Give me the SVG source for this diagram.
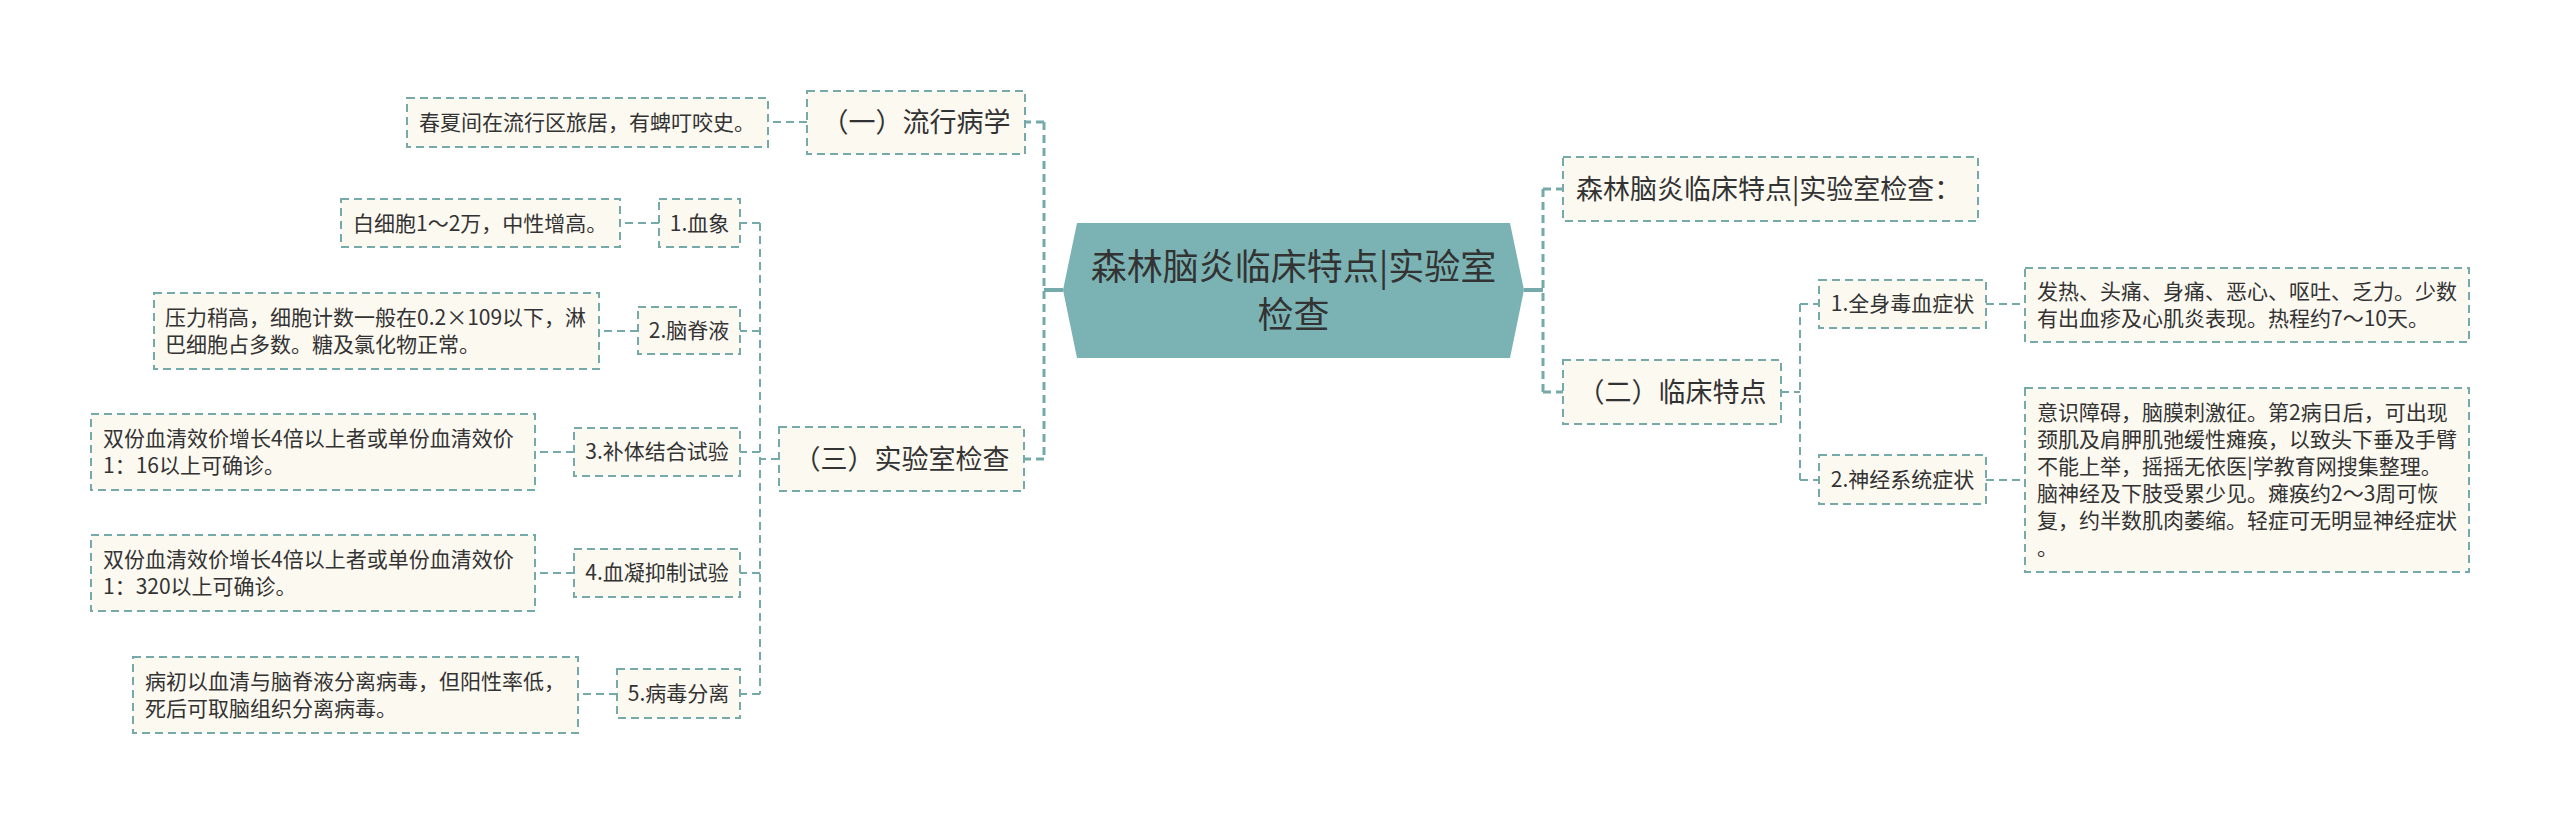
<svg xmlns="http://www.w3.org/2000/svg" width="2560" height="823" viewBox="0 0 2560 823">
<style>
  text { font-family: "Noto Sans CJK SC", "Noto Sans", sans-serif; fill: #333333; }
  .box { fill: #fcf9f1; stroke: #76a9a9; stroke-width: 2; stroke-dasharray: 8 5; }
  .t1 { font-size: 27px; }
  .t2 { font-size: 21px; }
  .c { text-anchor: middle; }
  .hex { fill: #7bb3b4; }
  .ct { font-size: 36px; text-anchor: middle; fill: #333333; }
  .lk1 { fill: none; stroke: #76a9a9; stroke-width: 3; stroke-dasharray: 8 5; }
  .lk2 { fill: none; stroke: #76a9a9; stroke-width: 2; stroke-dasharray: 8 5; }
  .solid { fill: none; stroke: #76a9a9; stroke-width: 4; }
</style>
<rect width="2560" height="823" fill="#ffffff"/>

<g id="connectors">
  <!-- center to left -->
  <path class="solid" d="M1063,290 H1044"/>
  <path class="lk1" d="M1044,122 V459"/>
  <path class="lk1" d="M1044,122 H1025"/>
  <path class="lk1" d="M1044,459 H1024"/>
  <!-- (一) to leaf -->
  <path class="lk2" d="M807,122 H768"/>
  <!-- (三) to children -->
  <path class="lk2" d="M779,459 H760"/>
  <path class="lk2" d="M760,223 V694"/>
  <path class="lk2" d="M760,223 H740"/>
  <path class="lk2" d="M760,331 H740"/>
  <path class="lk2" d="M760,452 H740"/>
  <path class="lk2" d="M760,573 H740"/>
  <path class="lk2" d="M760,694 H740"/>
  <!-- children to leaves -->
  <path class="lk2" d="M659,223 H620"/>
  <path class="lk2" d="M638,331 H599"/>
  <path class="lk2" d="M574,452 H535"/>
  <path class="lk2" d="M574,573 H535"/>
  <path class="lk2" d="M617,694 H578"/>
  <!-- center to right -->
  <path class="solid" d="M1524,290 H1543"/>
  <path class="lk1" d="M1543,189 V392"/>
  <path class="lk1" d="M1543,189 H1563"/>
  <path class="lk1" d="M1543,392 H1563"/>
  <!-- (二) to children -->
  <path class="lk2" d="M1781,392 H1800"/>
  <path class="lk2" d="M1800,304 V480"/>
  <path class="lk2" d="M1800,304 H1819"/>
  <path class="lk2" d="M1800,480 H1819"/>
  <!-- children to leaves -->
  <path class="lk2" d="M1986,304 H2025"/>
  <path class="lk2" d="M1986,480 H2025"/>
</g>

<g id="center">
  <polygon class="hex" points="1063,290 1077,223 1510,223 1524,290 1510,358 1077,358"/>
  <text class="ct" x="1293.5" y="280">森林脑炎临床特点|实验室</text>
  <text class="ct" x="1293.5" y="328">检查</text>
</g>

<g id="n-liuxing">
  <rect class="box" x="807" y="91" width="218" height="63"/>
  <text class="t1 c" x="916" y="132">（一）流行病学</text>
</g>
<g id="n-liuxing-leaf">
  <rect class="box" x="407" y="98" width="361" height="49"/>
  <text class="t2" x="419" y="130">春夏间在流行区旅居，有蜱叮咬史。</text>
</g>

<g id="n-shiyan">
  <rect class="box" x="779" y="427" width="245" height="64"/>
  <text class="t1 c" x="901.5" y="468.5">（三）实验室检查</text>
</g>

<g id="n-xuexiang">
  <rect class="box" x="659" y="199" width="81" height="48"/>
  <text class="t2 c" x="699.5" y="230.5">1.血象</text>
</g>
<g id="n-xuexiang-leaf">
  <rect class="box" x="341" y="199" width="279" height="48"/>
  <text class="t2" x="353" y="230.5">白细胞1～2万，中性增高。</text>
</g>

<g id="n-naojiye">
  <rect class="box" x="638" y="307" width="102" height="47"/>
  <text class="t2 c" x="689" y="338">2.脑脊液</text>
</g>
<g id="n-naojiye-leaf">
  <rect class="box" x="154" y="293" width="445" height="76"/>
  <text class="t2" x="165" y="324.8">压力稍高，细胞计数一般在0.2×109以下，淋</text>
  <text class="t2" x="165" y="351.8">巴细胞占多数。糖及氯化物正常。</text>
</g>

<g id="n-buti">
  <rect class="box" x="574" y="428" width="166" height="48"/>
  <text class="t2 c" x="657" y="459.3">3.补体结合试验</text>
</g>
<g id="n-buti-leaf">
  <rect class="box" x="91" y="414" width="444" height="76"/>
  <text class="t2" x="103" y="445.8">双份血清效价增长4倍以上者或单份血清效价</text>
  <text class="t2" x="103" y="472.8">1：16以上可确诊。</text>
</g>

<g id="n-xuening">
  <rect class="box" x="574" y="549" width="166" height="48"/>
  <text class="t2 c" x="657" y="580.3">4.血凝抑制试验</text>
</g>
<g id="n-xuening-leaf">
  <rect class="box" x="91" y="535" width="444" height="76"/>
  <text class="t2" x="103" y="566.8">双份血清效价增长4倍以上者或单份血清效价</text>
  <text class="t2" x="103" y="593.8">1：320以上可确诊。</text>
</g>

<g id="n-bingdu">
  <rect class="box" x="617" y="669" width="123" height="49"/>
  <text class="t2 c" x="678.5" y="700.8">5.病毒分离</text>
</g>
<g id="n-bingdu-leaf">
  <rect class="box" x="133" y="657" width="445" height="76"/>
  <text class="t2" x="145" y="688.8">病初以血清与脑脊液分离病毒，但阳性率低，</text>
  <text class="t2" x="145" y="715.8">死后可取脑组织分离病毒。</text>
</g>

<g id="n-title">
  <rect class="box" x="1563" y="157" width="415" height="64"/>
  <text class="t1" x="1576" y="198.5">森林脑炎临床特点|实验室检查：</text>
</g>

<g id="n-linchuang">
  <rect class="box" x="1563" y="360" width="218" height="64"/>
  <text class="t1 c" x="1672" y="401.5">（二）临床特点</text>
</g>

<g id="n-quanshen">
  <rect class="box" x="1819" y="280" width="167" height="48"/>
  <text class="t2 c" x="1902.5" y="311.3">1.全身毒血症状</text>
</g>
<g id="n-quanshen-leaf">
  <rect class="box" x="2025" y="268" width="444" height="74"/>
  <text class="t2" x="2037" y="298.8">发热、头痛、身痛、恶心、呕吐、乏力。少数</text>
  <text class="t2" x="2037" y="325.8">有出血疹及心肌炎表现。热程约7～10天。</text>
</g>

<g id="n-shenjing">
  <rect class="box" x="1819" y="455" width="167" height="49"/>
  <text class="t2 c" x="1902.5" y="486.8">2.神经系统症状</text>
</g>
<g id="n-shenjing-leaf">
  <rect class="box" x="2025" y="388" width="444" height="184"/>
  <text class="t2" x="2037" y="419.8">意识障碍，脑膜刺激征。第2病日后，可出现</text>
  <text class="t2" x="2037" y="446.8">颈肌及肩胛肌弛缓性瘫痪，以致头下垂及手臂</text>
  <text class="t2" x="2037" y="473.8">不能上举，摇摇无依医|学教育网搜集整理。</text>
  <text class="t2" x="2037" y="500.8">脑神经及下肢受累少见。瘫痪约2～3周可恢</text>
  <text class="t2" x="2037" y="527.8">复，约半数肌肉萎缩。轻症可无明显神经症状</text>
  <text class="t2" x="2037" y="554.8">。</text>
</g>
</svg>
